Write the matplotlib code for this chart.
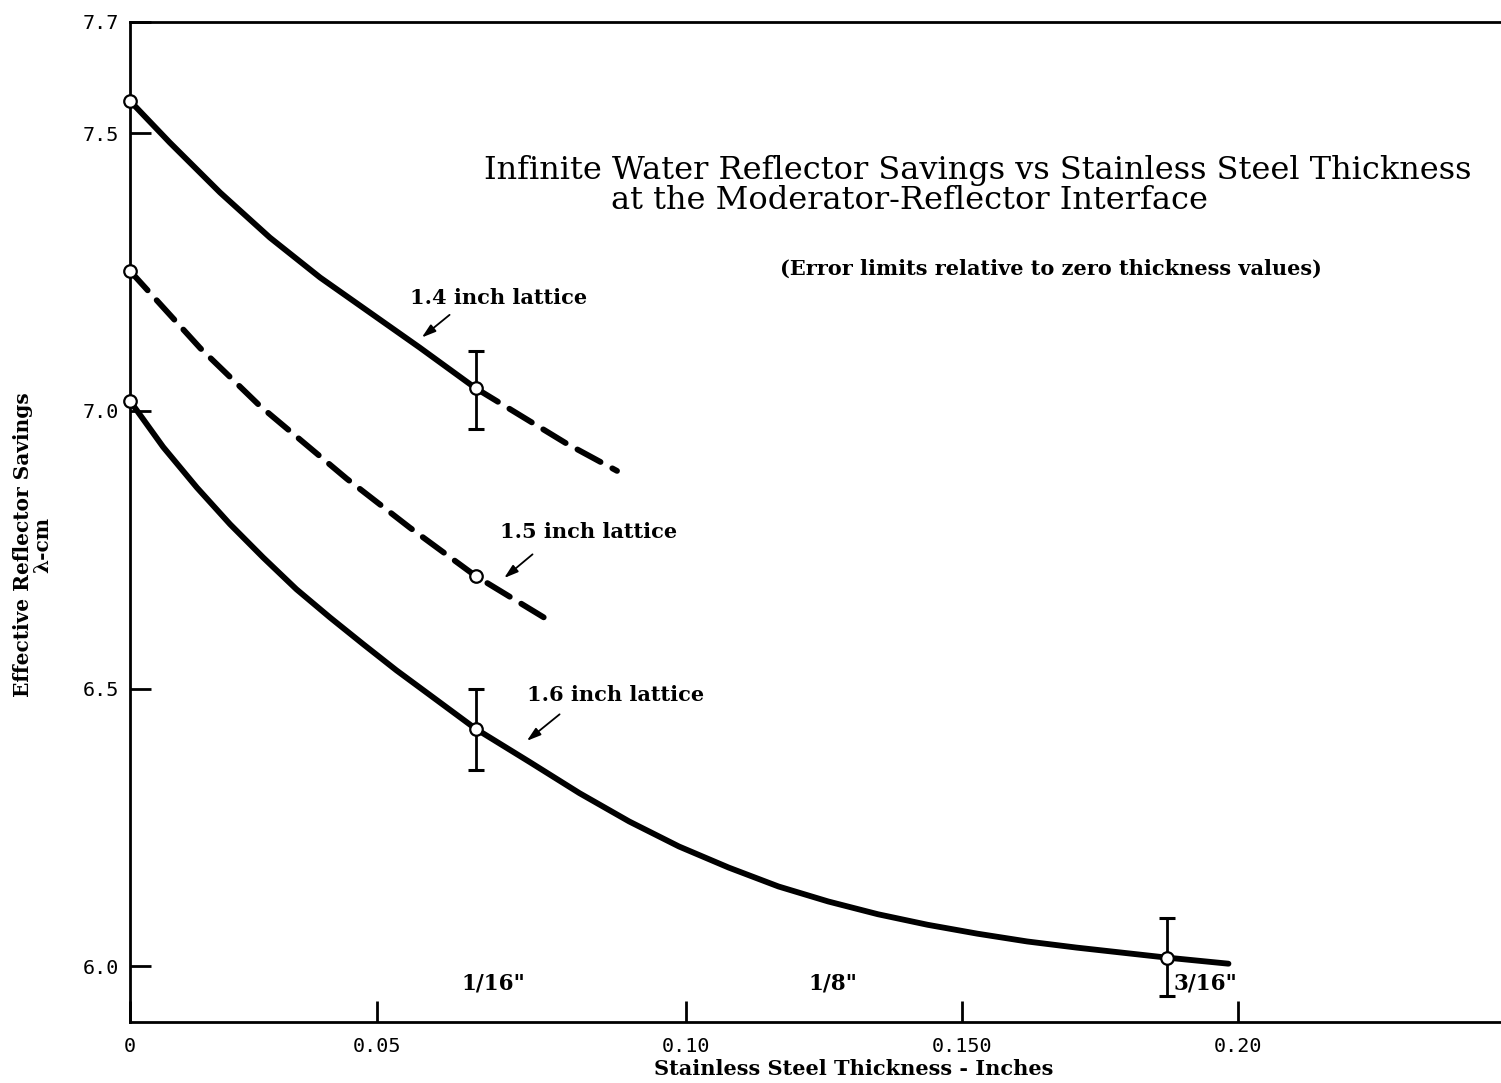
import numpy as np
import matplotlib.pyplot as plt

# thickness (inches) vs effective reflector savings (lambda-cm)
x_14 = [0, 0.0072, 0.0163, 0.0253, 0.0344, 0.0434, 0.0524, 0.0625]
y_14 = [7.558, 7.483, 7.393, 7.312, 7.240, 7.177, 7.114, 7.041]
x_14_ext = [0.0625, 0.0790, 0.0881]
y_14_ext = [7.041, 6.941, 6.892]

x_15 = [0, 0.0127, 0.0235, 0.0392, 0.0506, 0.0625, 0.0759]
y_15 = [7.252, 7.113, 7.009, 6.878, 6.790, 6.703, 6.622]

x_16 = [0, 0.0060, 0.0121, 0.0181, 0.0241, 0.0301, 0.0362, 0.0422, 0.0482,
        0.0542, 0.0625, 0.0723, 0.0813, 0.0903, 0.0993, 0.1083, 0.1173,
        0.1263, 0.1353, 0.1443, 0.1533, 0.1623, 0.1712, 0.1875, 0.1987]
y_16 = [7.018, 6.935, 6.862, 6.796, 6.736, 6.679, 6.628, 6.580, 6.533,
        6.489, 6.428, 6.368, 6.312, 6.261, 6.216, 6.178, 6.144,
        6.117, 6.094, 6.075, 6.059, 6.045, 6.034, 6.016, 6.005]

# measured points and error limits
pts_x = [0, 0.0625, 0, 0.0625, 0, 0.0625, 0.1875]
pts_y = [7.558, 7.041, 7.252, 6.703, 7.018, 6.428, 6.016]
err_x = [0.0625, 0.0625, 0.1875]
err_y = [7.038, 6.427, 6.017]
err_e = [0.070, 0.073, 0.071]

xticks = [0, 0.0447, 0.1005, 0.1505, 0.2005]
xticklabels = ['0', '0.05', '0.10', '0.150', '0.20']
yticks = [6.0, 6.5, 7.0, 7.5, 7.7]
yticklabels = ['6.0', '6.5', '7.0', '7.5', '7.7']
frac_x = [0.0658, 0.1271, 0.1945]
frac_labels = ['1/16"', '1/8"', '3/16"']

fig = plt.figure(figsize=(15.01, 10.83), dpi=100)
ax = fig.add_axes([0.0866, 0.0563, 0.9134, 0.9234])

lw = 4.2
ax.plot(x_14, y_14, 'k-', lw=lw, solid_capstyle='round', solid_joinstyle='round')
ax.plot(x_14_ext, y_14_ext, 'k--', lw=lw, dashes=(4.5, 2.3), dash_capstyle='round')
ax.plot(x_15, y_15, 'k--', lw=lw, dashes=(4.5, 2.3), dash_capstyle='round')
ax.plot(x_16, y_16, 'k-', lw=lw, solid_capstyle='round', solid_joinstyle='round')

ax.errorbar(err_x, err_y, yerr=err_e, fmt='none', ecolor='k', elinewidth=2,
            capsize=5.5, capthick=2.2, zorder=3)
ax.plot(pts_x, pts_y, 'o', ms=9, mfc='white', mec='k', mew=1.6, zorder=5, clip_on=False)

ax.set_xlim(0, 0.248)
ax.set_ylim(5.9, 7.7)

mono = {'family': 'DejaVu Sans Mono', 'size': 14.5}
ax.set_xticks(xticks)
ax.set_xticklabels(xticklabels, fontdict=mono)
ax.set_yticks(yticks)
ax.set_yticklabels(yticklabels, fontdict=mono)
ax.tick_params(axis='both', direction='in', length=15, width=2, color='k')
ax.tick_params(axis='x', pad=11)
ax.tick_params(axis='y', pad=8)

for s in ['left', 'bottom', 'top']:
    ax.spines[s].set_linewidth(2)
ax.spines['right'].set_visible(False)

lab = {'family': 'DejaVu Serif', 'size': 15, 'weight': 'bold'}
fig.text(0.569, 0.0125, 'Stainless Steel Thickness - Inches', ha='center',
         va='center', fontdict=lab)
fig.text(0.015, 0.497, 'Effective Reflector Savings', rotation=90, ha='center',
         va='center', fontdict=dict(lab, size=14.5))
fig.text(0.028, 0.497, '\u03bb-cm', rotation=90, ha='center', va='center',
         fontdict=dict(lab, size=14.5))

for fx, fl in zip(frac_x, frac_labels):
    ax.text(fx, 5.969, fl, ha='center', va='center', fontdict=dict(lab, size=15.5))

fig.text(0.3225, 0.843, 'Infinite Water Reflector Savings vs Stainless Steel Thickness',
         family='DejaVu Serif', size=23, va='center', ha='left')
fig.text(0.407, 0.815, 'at the Moderator-Reflector Interface',
         family='DejaVu Serif', size=23, va='center', ha='left')
fig.text(0.5197, 0.752, '(Error limits relative to zero thickness values)',
         va='center', ha='left', fontdict=lab)

arr = dict(arrowstyle='-|>,head_length=0.7,head_width=0.22', color='k', lw=1.3,
           mutation_scale=12)
ax.annotate('', xy=(0.0524, 7.129), xytext=(0.0582, 7.176), arrowprops=arr)
ax.text(0.0506, 7.203, '1.4 inch lattice', ha='left', va='center', fontdict=lab)
ax.annotate('', xy=(0.0673, 6.696), xytext=(0.0732, 6.745), arrowprops=arr)
ax.text(0.0669, 6.782, '1.5 inch lattice', ha='left', va='center', fontdict=lab)
ax.annotate('', xy=(0.0714, 6.403), xytext=(0.0781, 6.457), arrowprops=arr)
ax.text(0.0718, 6.489, '1.6 inch lattice', ha='left', va='center', fontdict=lab)

fig.savefig('out.png', dpi=100)
